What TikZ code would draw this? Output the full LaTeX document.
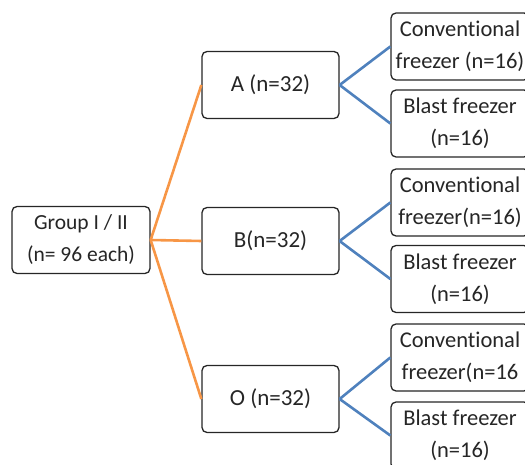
\documentclass[tikz,border=0pt]{standalone}
\usepackage{fontspec}
\setmainfont[Ligatures={NoCommon}]{Carlito}
\definecolor{orangeline}{HTML}{F79646}
\definecolor{blueline}{HTML}{4F81BD}
\definecolor{boxline}{HTML}{262626}
\begin{document}
\begin{tikzpicture}[x=1pt,y=-1pt,
  box/.style={draw=boxline, line width=1.3pt, rounded corners=5pt, fill=white,
    minimum width=137pt, minimum height=67pt, inner sep=0pt, align=center,
    font=\fontsize{23}{32}\selectfont, text=black!85},
  rbox/.style={box, minimum width=138pt, font=\fontsize{22.5}{32}\selectfont},
  oline/.style={draw=orangeline, line width=2.6pt},
  bline/.style={draw=blueline, line width=2.6pt}]
\useasboundingbox (0,0) rectangle (525,465);
\node[box, minimum width=138pt, font=\fontsize{21.5}{32}\selectfont] (g) at (81,240) {Group I / II\\(n= 96 each)};
\node[box] (a) at (270.5,85) {A (n=32)};
\node[box] (b) at (270.5,241) {B(n=32)};
\node[box] (o) at (270.5,399) {O (n=32)};
\node[rbox] (c1) at (460,46.5) {Conventional\\freezer (n=16)};
\node[rbox] (b1) at (460,123.5) {Blast freezer\\(n=16)};
\node[rbox] (c2) at (460,202.5) {Conventional\\freezer(n=16)};
\node[rbox] (b2) at (460,279) {Blast freezer\\(n=16)};
\node[rbox] (c3) at (460,357.5) {Conventional\\freezer(n=16};
\node[rbox] (b3) at (460,435.5) {Blast freezer\\(n=16)};
\draw[oline] (g.east) -- (a.west);
\draw[oline] (g.east) -- (b.west);
\draw[oline] (g.east) -- (o.west);
\draw[bline] (a.east) -- (c1.west);
\draw[bline] (a.east) -- (b1.west);
\draw[bline] (b.east) -- (c2.west);
\draw[bline] (b.east) -- (b2.west);
\draw[bline] (o.east) -- (c3.west);
\draw[bline] (o.east) -- (b3.west);
\end{tikzpicture}
\end{document}
